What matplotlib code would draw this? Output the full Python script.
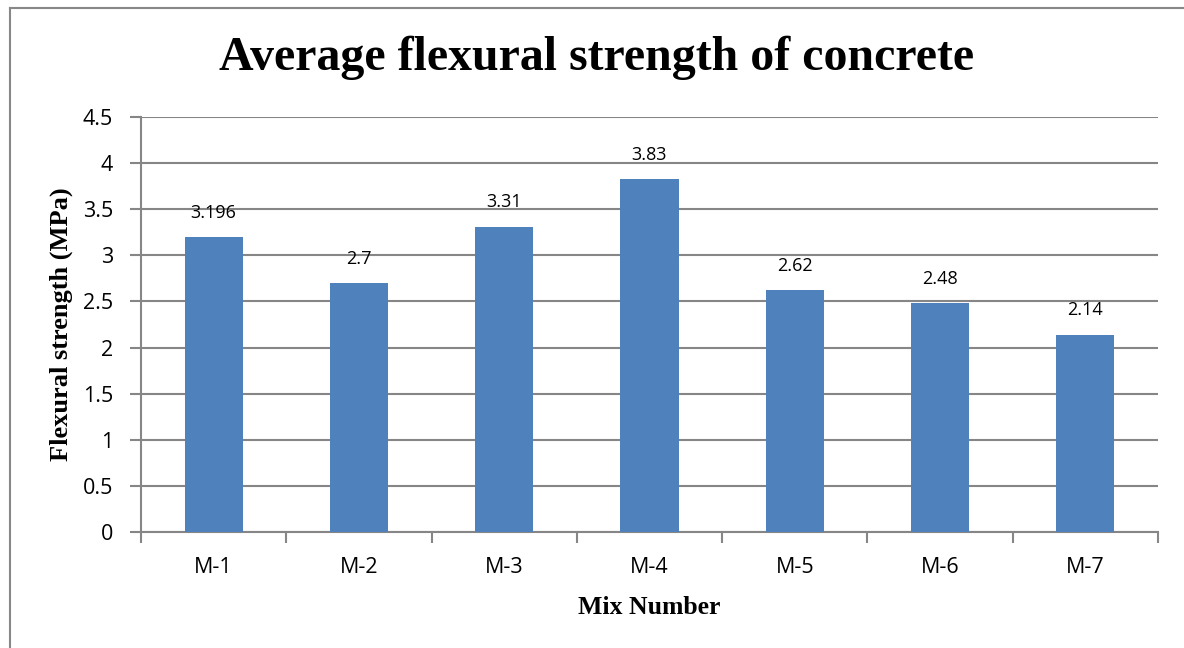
import numpy as np
import matplotlib.pyplot as plt
from matplotlib.lines import Line2D

# data
mixes = ['M-1', 'M-2', 'M-3', 'M-4', 'M-5', 'M-6', 'M-7']
strength = [3.196, 2.7, 3.31, 3.83, 2.62, 2.48, 2.14]
value_labels = ['3.196', '2.7', '3.31', '3.83', '2.62', '2.48', '2.14']
y_ticks = [0, 0.5, 1, 1.5, 2, 2.5, 3, 3.5, 4, 4.5]
y_tick_labels = ['0', '0.5', '1', '1.5', '2', '2.5', '3', '3.5', '4', '4.5']

bar_color = '#4F81BD'
grid_color = '#868686'
sans = ['Open Sans', 'DejaVu Sans']
serif = ['Liberation Serif', 'DejaVu Serif']

fig = plt.figure(figsize=(11.84, 6.48), dpi=100)
ax = fig.add_axes([141 / 1184, 116 / 648, 1017 / 1184, 415 / 648])

x = np.arange(len(mixes))
ax.bar(x, strength, width=0.4, color=bar_color, zorder=3)

for xi, v, lab in zip(x, strength, value_labels):
    ax.annotate(lab, (xi, v), xytext=(0, 11), textcoords='offset points',
                ha='center', va='bottom', fontsize=13, family=sans)

ax.set_xlim(-0.5, len(mixes) - 0.5)
ax.set_ylim(0, 4.5)
ax.set_yticks(y_ticks)
ax.set_yticklabels(y_tick_labels, family=sans, fontsize=15.5)
ax.set_xticks(x)
ax.set_xticklabels(mixes, family=sans, fontsize=15.5)
ax.set_xticks(np.arange(len(mixes) + 1) - 0.5, minor=True)

ax.grid(axis='y', color=grid_color, linewidth=1.5, zorder=0)
ax.tick_params(axis='x', which='major', length=0, pad=18)
ax.tick_params(axis='x', which='minor', length=8, width=1.5, color=grid_color, direction='out')
ax.tick_params(axis='y', length=8, width=1.5, color=grid_color, direction='out', pad=12)

for side in ['top', 'right']:
    ax.spines[side].set_visible(False)
for side in ['left', 'bottom']:
    ax.spines[side].set_color(grid_color)
    ax.spines[side].set_linewidth(1.5)

ax.set_xlabel('Mix Number', family=serif, fontweight='bold', fontsize=18.5, labelpad=13)
ax.set_ylabel('Flexural strength (MPa)', family=serif, fontweight='bold', fontsize=19, labelpad=7)

fig.text(597 / 1184, 1 - 58 / 648, 'Average flexural strength of concrete',
         ha='center', va='center', family=serif, fontweight='bold', fontsize=34.5)

# chart border (cut off on the right and bottom in the reference)
fig.add_artist(Line2D([10 / 1184, 10 / 1184], [0, 1 - 8 / 648],
                      transform=fig.transFigure, color='#888888', lw=1.5))
fig.add_artist(Line2D([10 / 1184, 1], [1 - 8 / 648, 1 - 8 / 648],
                      transform=fig.transFigure, color='#888888', lw=1.5))

fig.savefig('out.png', dpi=100)
